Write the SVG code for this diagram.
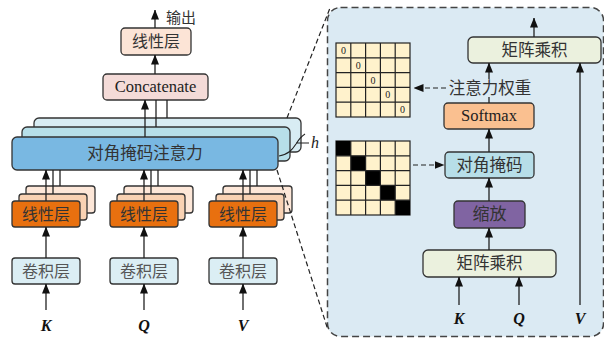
<svg xmlns="http://www.w3.org/2000/svg" width="604" height="340" viewBox="0 0 604 340">
<style>
.b{stroke:#333;stroke-width:1.3}
.zh{font-family:"Noto Sans CJK SC","Noto Sans",sans-serif;font-size:16px;fill:#333;text-anchor:middle}
.en{font-family:"Liberation Serif",serif;font-size:16.5px;fill:#222;text-anchor:middle}
.var{font-family:"Liberation Serif",serif;font-size:16px;font-weight:bold;font-style:italic;fill:#111;text-anchor:middle}
.ln{stroke:#222;stroke-width:1.3;fill:none}
.ar{stroke:#222;stroke-width:1.3;fill:none;marker-end:url(#ah)}
.dl{stroke:#222;stroke-width:1.2;fill:none;stroke-dasharray:5,3}
.cell{fill:#fff2cc;stroke:#222;stroke-width:1.2}
.lin0{fill:#e8700f}.lin1{fill:#f9d2b3}.lin2{fill:#fde7d8}
</style>
<defs>
<marker id="ah" viewBox="0 0 10 8" refX="9.5" refY="4" markerWidth="10" markerHeight="8" markerUnits="userSpaceOnUse" orient="auto">
<path d="M0,0 L10,4 L0,8 Z" fill="#111"/>
</marker>
</defs>
<rect width="604" height="340" fill="#fff"/>

<g id="panel">
<rect x="327.5" y="7.5" width="276" height="329" rx="13" fill="#dbeaf3" stroke="#444" stroke-width="1.5" stroke-dasharray="7,4"/>
</g>

<g id="out-linear"><rect class="b" x="121" y="28" width="70" height="27" rx="4" fill="#fce4d6"/><text class="zh" x="156" y="47">线性层</text></g>
<g id="concat"><rect class="b" x="103" y="74" width="105" height="26" rx="4" fill="#f4dbd8"/><text class="en" x="155.5" y="92">Concatenate</text></g>
<g id="attention">
<rect class="b" x="34" y="118" width="267" height="34" rx="5" fill="#d8ecf3"/>
<rect class="b" x="22" y="127" width="268" height="34" rx="5" fill="#b7dfe9"/>
<rect class="b" x="12" y="137" width="266" height="33" rx="5" fill="#79b8e2"/>
<text class="zh" x="145" y="159" style="font-size:16.5px">对角掩码注意力</text>
</g>
<g id="linear-K">
<rect class="b lin2" x="26" y="186" width="69" height="27" rx="3"/>
<rect class="b lin1" x="19" y="194" width="68" height="26" rx="3"/>
<rect class="b lin0" x="12" y="201" width="68" height="26" rx="3"/>
<text class="zh" x="46" y="220">线性层</text>
</g>
<g id="linear-Q">
<rect class="b lin2" x="124" y="186" width="69" height="27" rx="3"/>
<rect class="b lin1" x="117" y="194" width="68" height="26" rx="3"/>
<rect class="b lin0" x="110" y="201" width="68" height="26" rx="3"/>
<text class="zh" x="144" y="220">线性层</text>
</g>
<g id="linear-V">
<rect class="b lin2" x="223" y="186" width="69" height="27" rx="3"/>
<rect class="b lin1" x="216" y="194" width="68" height="26" rx="3"/>
<rect class="b lin0" x="209" y="201" width="68" height="26" rx="3"/>
<text class="zh" x="243" y="220">线性层</text>
</g>
<g id="conv-K"><rect class="b" x="12" y="258" width="68" height="26" rx="3" fill="#dbeef4"/><text class="zh" x="46" y="277" style="fill:#555">卷积层</text></g>
<g id="conv-Q"><rect class="b" x="110" y="258" width="68" height="26" rx="3" fill="#dbeef4"/><text class="zh" x="144" y="277" style="fill:#555">卷积层</text></g>
<g id="conv-V"><rect class="b" x="209" y="258" width="68" height="26" rx="3" fill="#dbeef4"/><text class="zh" x="243" y="277" style="fill:#555">卷积层</text></g>
<g id="labels-left">
<text class="zh" x="181" y="23" style="font-size:15px">输出</text>
<text class="var" x="46" y="331">K</text>
<text class="var" x="144" y="331">Q</text>
<text class="var" x="243" y="331">V</text>
<text x="311" y="148" style="font-family:'Liberation Serif',serif;font-style:italic;font-size:16px;fill:#222">h</text>
</g>

<g id="mat-top"><rect class="b" x="468" y="37" width="133" height="26" rx="5" fill="#ebf1de"/><text class="zh" x="534.5" y="56" style="font-size:16.5px">矩阵乘积</text></g>
<g id="softmax"><rect class="b" x="444" y="103" width="90" height="26" rx="4" fill="#fac090"/><text class="en" x="489" y="121">Softmax</text></g>
<g id="mask"><rect class="b" x="445" y="152" width="89" height="26" rx="4" fill="#b7dee8"/><text class="zh" x="489.5" y="171" style="font-size:16.5px">对角掩码</text></g>
<g id="scale"><rect class="b" x="454" y="201" width="71" height="27" rx="4" fill="#8064a2"/><text class="zh" x="489.5" y="220" style="font-size:17px">缩放</text></g>
<g id="mat-bot"><rect class="b" x="423" y="250" width="133" height="27" rx="5" fill="#ebf1de"/><text class="zh" x="489.5" y="269" style="font-size:16.5px">矩阵乘积</text></g>
<g id="labels-right">
<text class="zh" x="490" y="94" style="font-size:16.5px">注意力权重</text>
<text class="var" x="459" y="324">K</text>
<text class="var" x="519" y="324">Q</text>
<text class="var" x="580" y="324">V</text>
</g>

<g id="weight-matrix">
<rect class="cell" x="336" y="43" width="74" height="74"/>
<path class="ln" d="M350.8,43V117M365.6,43V117M380.4,43V117M395.2,43V117M336,57.8H410M336,72.6H410M336,87.4H410M336,102.2H410" style="stroke-width:1.2"/>
<g style="font-family:'Liberation Serif',serif;font-size:10px;fill:#222" text-anchor="middle">
<text x="343.4" y="54">0</text><text x="358.2" y="68.8">0</text><text x="373" y="83.6">0</text><text x="387.8" y="98.4">0</text><text x="402.6" y="113.2">0</text>
</g>
</g>
<g id="mask-matrix">
<rect class="cell" x="336" y="141" width="74" height="74"/>
<g fill="#000">
<rect x="336" y="141" width="14.8" height="14.8"/><rect x="350.8" y="155.8" width="14.8" height="14.8"/><rect x="365.6" y="170.6" width="14.8" height="14.8"/><rect x="380.4" y="185.4" width="14.8" height="14.8"/><rect x="395.2" y="200.2" width="14.8" height="14.8"/>
</g>
<path class="ln" d="M350.8,141V215M365.6,141V215M380.4,141V215M395.2,141V215M336,155.8H410M336,170.6H410M336,185.4H410M336,200.2H410" style="stroke-width:1.2"/>
</g>

<g id="connectors">
<line class="ar" x1="155" y1="28" x2="155" y2="10"/>
<line class="ar" x1="155" y1="74" x2="155" y2="55"/>
<line class="ar" x1="145" y1="137" x2="145" y2="100"/>
<line class="ln" x1="156" y1="127" x2="156" y2="100"/>
<line class="ln" x1="167" y1="118" x2="167" y2="100"/>

<line class="ar" x1="46" y1="201" x2="46" y2="170"/>
<line class="ln" x1="53" y1="194" x2="53" y2="170"/>
<line class="ln" x1="60" y1="186" x2="60" y2="170"/>
<line class="ar" x1="144" y1="201" x2="144" y2="170"/>
<line class="ln" x1="151" y1="194" x2="151" y2="170"/>
<line class="ln" x1="158" y1="186" x2="158" y2="170"/>
<line class="ar" x1="243" y1="201" x2="243" y2="170"/>
<line class="ln" x1="250" y1="194" x2="250" y2="170"/>
<line class="ln" x1="257" y1="186" x2="257" y2="170"/>

<line class="ar" x1="46" y1="258" x2="46" y2="227"/>
<line class="ar" x1="144" y1="258" x2="144" y2="227"/>
<line class="ar" x1="243" y1="258" x2="243" y2="227"/>
<line class="ar" x1="46" y1="310" x2="46" y2="284"/>
<line class="ar" x1="144" y1="310" x2="144" y2="284"/>
<line class="ar" x1="243" y1="310" x2="243" y2="284"/>

<path class="ln" d="M279,156 C289,154 292,150 296,144 C299,139 302,136 305,134 M296,143 H309" style="stroke-width:1.1"/>
<line class="dl" x1="287" y1="118" x2="330" y2="8"/>
<line class="dl" x1="277" y1="170" x2="328" y2="330"/>

<line class="ar" x1="534" y1="37" x2="534" y2="18"/>
<line class="ln" x1="489" y1="103" x2="489" y2="97"/>
<line class="ar" x1="489" y1="79" x2="489" y2="63"/>
<line class="ar" x1="489" y1="152" x2="489" y2="129"/>
<line class="ar" x1="489" y1="201" x2="489" y2="178"/>
<line class="ar" x1="489" y1="250" x2="489" y2="228"/>
<line class="ar" x1="459" y1="305" x2="459" y2="277"/>
<line class="ar" x1="519" y1="305" x2="519" y2="277"/>
<line class="ar" x1="580" y1="305" x2="580" y2="63"/>
<line class="dl" x1="446" y1="88" x2="414" y2="88" marker-end="url(#ah)"/>
<line class="dl" x1="413" y1="165" x2="444" y2="165" marker-end="url(#ah)"/>
</g>
</svg>
